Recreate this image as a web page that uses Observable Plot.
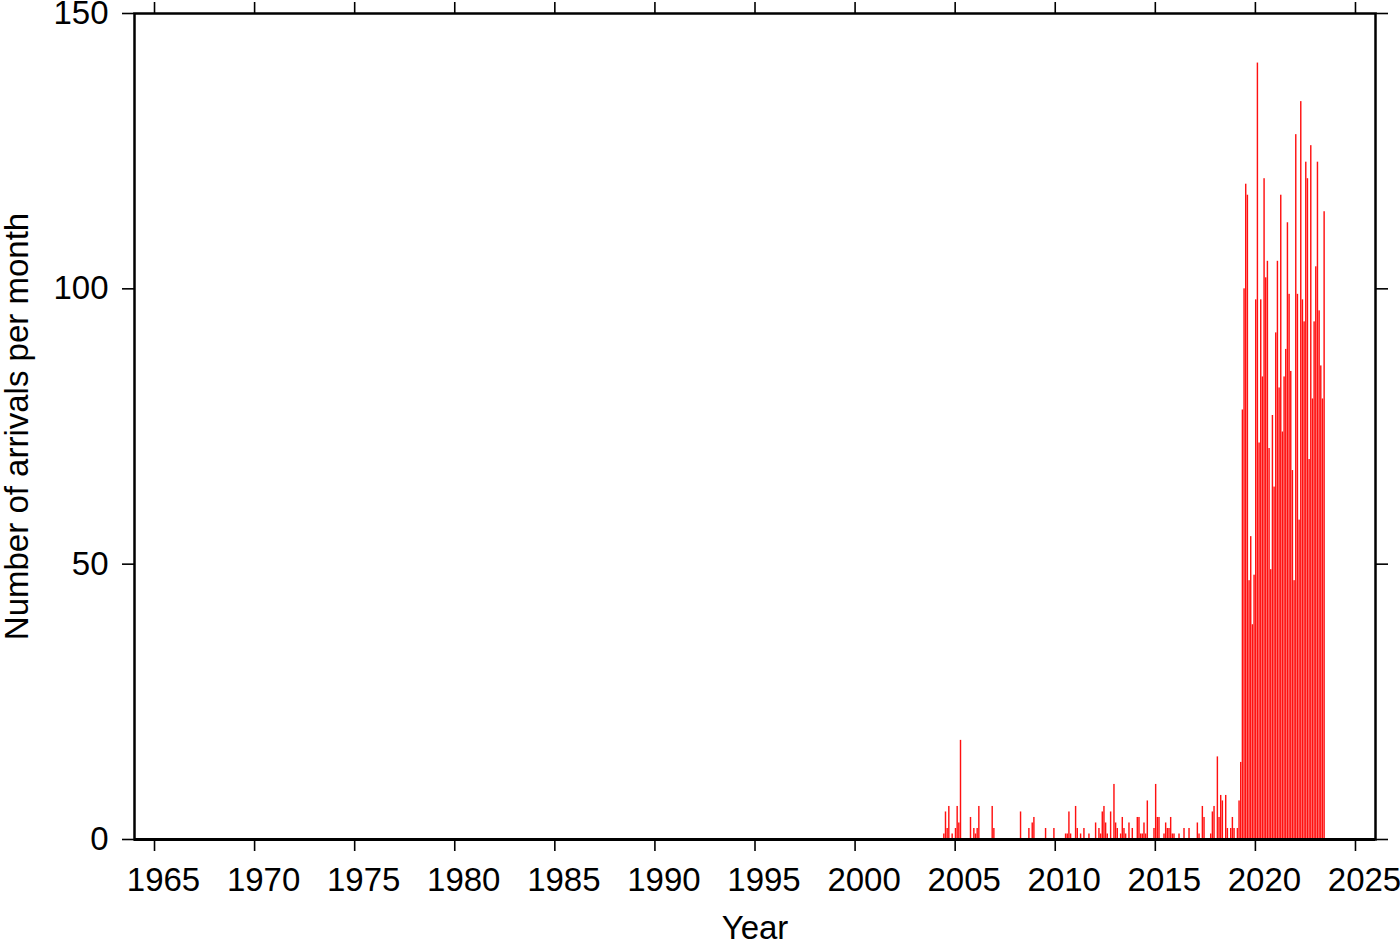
<!DOCTYPE html>
<html>
<head>
<meta charset="utf-8">
<script src="https://cdn.jsdelivr.net/npm/d3@7"></script>
<script src="https://cdn.jsdelivr.net/npm/@observablehq/plot@0.6"></script>
<style>
  html, body { margin: 0; padding: 0; background: white; }
</style>
</head>
<body>
<div id="chart"></div>
<script>
// Monthly arrivals (only non-zero months listed)
const months = [
  "2004-06","2004-07","2004-08","2004-09","2004-11",
  "2005-01","2005-02","2005-03","2005-04","2005-10","2005-12",
  "2006-01","2006-02","2006-03","2006-11","2006-12",
  "2008-04","2008-09","2008-11","2008-12",
  "2009-07","2009-12",
  "2010-07","2010-08","2010-09","2010-10",
  "2011-01","2011-02","2011-04","2011-06","2011-09",
  "2012-01","2012-03","2012-04","2012-05","2012-06","2012-07","2012-08","2012-10","2012-12",
  "2013-01","2013-02","2013-04","2013-05","2013-06","2013-07","2013-09","2013-11",
  "2014-02","2014-03","2014-04","2014-05","2014-06","2014-07","2014-08","2014-12",
  "2015-01","2015-02","2015-03","2015-06","2015-07","2015-08","2015-09","2015-10","2015-11","2015-12",
  "2016-03","2016-06","2016-09",
  "2017-02","2017-03","2017-05","2017-06","2017-10","2017-11","2017-12",
  "2018-02","2018-03","2018-04","2018-05","2018-07","2018-08","2018-10","2018-11","2018-12",
  "2019-02","2019-03","2019-04","2019-05","2019-06","2019-07","2019-08","2019-09","2019-10","2019-11","2019-12",
  "2020-01","2020-02","2020-03","2020-04","2020-05","2020-06","2020-07","2020-08","2020-09","2020-10","2020-11","2020-12",
  "2021-01","2021-02","2021-03","2021-04","2021-05","2021-06","2021-07","2021-08","2021-09","2021-10","2021-11","2021-12",
  "2022-01","2022-02","2022-03","2022-04","2022-05","2022-06","2022-07","2022-08","2022-09","2022-10","2022-11","2022-12",
  "2023-01","2023-02","2023-03","2023-04","2023-05","2023-06"
];
const counts = [
  1,5,2,6,1,
  2,6,3,18,4,2,
  1,2,6,6,2,
  5,2,3,4,
  2,2,
  1,1,5,1,
  6,2,1,2,1,
  3,2,1,5,6,3,1,5,10,
  3,2,1,4,2,1,3,2,
  4,4,1,1,3,1,7,2,
  10,4,4,1,3,2,2,4,1,1,
  1,2,2,
  3,1,6,4,1,5,6,
  15,4,8,7,8,2,2,4,2,
  2,7,14,78,100,119,117,47,55,39,48,
  98,141,72,98,84,120,102,105,71,49,77,64,
  92,105,82,117,74,84,89,112,99,85,67,47,
  128,99,58,134,98,94,123,120,69,126,80,94,
  104,123,96,86,80,114
];
const xTicks = [1965,1970,1975,1980,1985,1990,1995,2000,2005,2010,2015,2020,2025];
const yTicks = [0,50,100,150];
const xLabel = "Year";
const yLabel = "Number of arrivals per month";

const data = months.map((m, i) => {
  const [yy, mm] = m.split("-").map(Number);
  const x1 = yy + (mm - 1) / 12;
  return {x1, x2: x1 + 1 / 12, count: counts[i]};
});

const font = "'Liberation Sans', Arial, Helvetica, sans-serif";

const chart = Plot.plot({
  width: 1400,
  height: 942,
  marginLeft: 134,
  marginRight: 25,
  marginTop: 13,
  marginBottom: 103,
  style: {fontFamily: font, fontSize: "33px", background: "white", color: "black"},
  x: {domain: [1964, 2026]},
  y: {domain: [0, 150]},
  marks: [
    Plot.rectY(data, {x1: "x1", x2: "x2", y1: 0, y2: "count", fill: "#ff1010", insetLeft: 0.12, insetRight: 0.12}),
    // bottom ticks
    Plot.axisX({anchor: "bottom", ticks: xTicks, tickSize: 12, strokeWidth: 1.6, fill: "none", label: null}),
    // bottom tick labels (slightly offset to the right, as in the reference)
    Plot.axisX({anchor: "bottom", ticks: xTicks, tickFormat: "d", tickSize: 0, tickPadding: 28, label: null, fontSize: 33, dx: 9}),
    Plot.axisX({anchor: "top", ticks: xTicks, tickSize: 12, strokeWidth: 1.6, fill: "none", label: null}),
    Plot.axisY({anchor: "left", ticks: yTicks, tickSize: 12, tickPadding: 14, strokeWidth: 1.6, label: null, fontSize: 33}),
    Plot.axisY({anchor: "right", ticks: yTicks, tickSize: 12, strokeWidth: 1.6, fill: "none", label: null}),
    Plot.frame({stroke: "black", strokeWidth: 2.5}),
    Plot.ruleY([0], {stroke: "black", strokeWidth: 3}),
    Plot.text([xLabel], {frameAnchor: "bottom", dy: 76, lineAnchor: "top", textAnchor: "middle", fontSize: 33, fill: "black"}),
    Plot.text([yLabel], {frameAnchor: "left", dx: -117, rotate: -90, textAnchor: "middle", fontSize: 33, fill: "black"})
  ]
});
document.getElementById("chart").appendChild(chart);
</script>
</body>
</html>
